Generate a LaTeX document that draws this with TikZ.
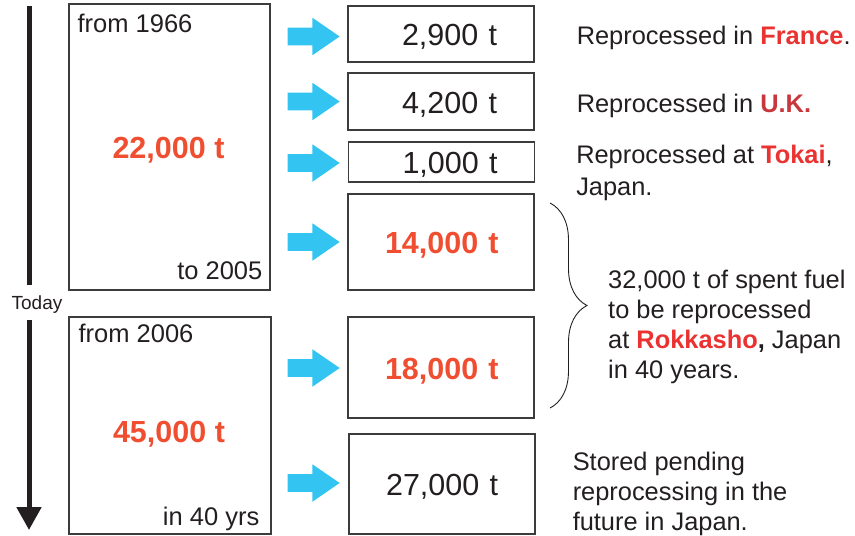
\documentclass[tikz,border=0pt]{standalone}
\usepackage{fontspec}
\setmainfont{Liberation Sans}
\usetikzlibrary{arrows.meta,positioning,shapes.arrows,decorations.pathreplacing}
\definecolor{inkgray}{RGB}{35,31,32}
\definecolor{framegray}{RGB}{60,60,60}
\definecolor{numred}{RGB}{240,78,48}
\definecolor{placered}{RGB}{234,50,48}
\definecolor{ukred}{RGB}{200,55,60}
\definecolor{flowblue}{RGB}{51,196,242}
\tikzset{
    %Define style for the two stock boxes
    stock/.style={
           rectangle,
           draw=framegray, line width=1.1pt,
           inner sep=0pt},
    %Define style for the boxes of each batch
    batch/.style={
           rectangle,
           draw=framegray, line width=1.1pt,
           text width=112pt, align=right,
           inner xsep=37pt, inner ysep=0pt,
           text height=29pt, text depth=6pt,
           text=inkgray,
           font=\fontsize{30.5pt}{32pt}\selectfont},
    amount/.style={
           text=numred,
           font=\fontsize{30.5pt}{32pt}\selectfont\bfseries},
    stamp/.style={
           inner sep=0pt,
           text=inkgray,
           font=\fontsize{25.5pt}{30pt}\selectfont},
    note/.style={
           inner sep=0pt,
           text=inkgray, align=left,
           font=\fontsize{25.4pt}{30pt}\selectfont},
    % Define arrow styles
    flow/.style={
           single arrow,
           fill=flowblue, draw=none,
           minimum height=52pt,
           inner xsep=0pt, inner ysep=8.75pt,
           single arrow head extend=9.75pt,
           single arrow tip angle=69},
    timeline/.style={
           draw=inkgray,
           line width=5pt}
}
\begin{document}
\begin{tikzpicture}[x=1pt,y=-1pt]
\useasboundingbox (0,0) rectangle (855,536);
 %time axis
\coordinate (tltop) at (29,6);
\coordinate (tlcut1) at (29,285);
\coordinate (tlcut2) at (29,320);
\coordinate (tlend) at (29,530);
\node[stamp, font=\fontsize{19pt}{21pt}\selectfont] (today) at (37,305) {Today};
\draw[timeline] (tltop) -- (tlcut1);
\draw[timeline, -{Triangle[width=24pt,length=23pt]}] (tlcut2) -- (tlend);
 %stocks
\node[stock, minimum width=201pt, minimum height=286pt] (past) at (169.5,147) {};
\node[stock, minimum width=202pt, minimum height=217pt] (future) at (170,425.5) {};
\node[stamp, anchor=base west] (from1) at ([shift={(9,29)}]past.north west) {from 1966};
\node[stamp, anchor=base east] (to1) at ([shift={(-8,-11)}]past.south east) {to 2005};
\node[amount] (total1) at (168.5,150) {22,000 t};
\node[stamp, anchor=base west] (from2) at ([shift={(10,26)}]future.north west) {from 2006};
\node[stamp, anchor=base east] (to2) at ([shift={(-12,-9)}]future.south east) {in 40 yrs};
\node[amount] (total2) at (169,434) {45,000 t};
 %batches
\node[batch, minimum height=56pt] (france) at (441,34) {2,900 t};
\node[batch, minimum height=57pt] (uk) at (441,101.5) {4,200 t};
\node[batch, minimum height=40pt] (tokai) at (441.5,162) {1,000 t};
\node[batch, minimum height=96pt, text=numred, font=\fontsize{30.5pt}{32pt}\selectfont\bfseries] (rok1) at (441,242) {14,000~t};
\node[batch, minimum height=101pt, text=numred, font=\fontsize{30.5pt}{32pt}\selectfont\bfseries] (rok2) at (441,367.5) {18,000~t};
\node[batch, minimum height=100pt] (stored) at (442,484) {27,000 t};
 %flows
\foreach \i/\y in {1/36.5,2/101.5,3/163,4/242,5/368,6/483}
  \node[flow, anchor=tip] (flow\i) at (340,\y) {};
 %notes
\node[note, right=42pt of france, yshift=-4pt] (francenote) {Reprocessed in {\color{placered}\bfseries France}.};
\node[note, right=42pt of uk, yshift=-4pt] (uknote) {Reprocessed in {\color{ukred}\bfseries U.K.}};
\node[note, right=41pt of tokai, yshift=-11pt, font=\fontsize{25.4pt}{32pt}\selectfont] (tokainote) {Reprocessed at {\color{placered}\bfseries Tokai},\\Japan.};
\coordinate (bracetop) at (550,203);
\coordinate (bracebot) at (550,408);
\draw[draw=inkgray, line width=0.9pt, decorate, decoration={brace, amplitude=37pt}] (bracetop) -- (bracebot);
\node[note, anchor=west] (rokkashonote) at (608,327) {32,000 t of spent fuel\\to be reprocessed\\at {\color{placered}\bfseries Rokkasho}{\bfseries ,} Japan\\in 40 years.};
\node[note, right=37pt of stored, yshift=-10pt] (storednote) {Stored pending\\reprocessing in the\\future in Japan.};
\end{tikzpicture}
\end{document}
